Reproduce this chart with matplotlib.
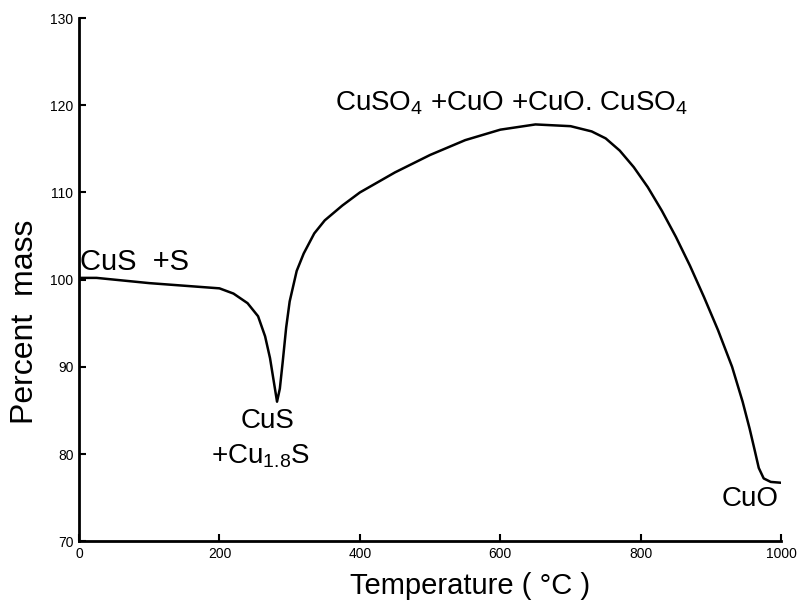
import numpy as np
import matplotlib
matplotlib.use('Agg')
import matplotlib.pyplot as plt

plt.rcParams['font.family'] = ['Liberation Sans', 'DejaVu Sans']
plt.rcParams['mathtext.fontset'] = 'custom'
plt.rcParams['mathtext.rm'] = 'Liberation Sans'
plt.rcParams['mathtext.it'] = 'Liberation Sans'

# thermogravimetric curve of CuS in air
temperature = [0, 25, 50, 100, 150, 200, 220, 240, 255, 265, 272, 278, 282,
               286, 290, 295, 300, 310, 320, 335, 350, 375, 400, 450, 500,
               550, 600, 650, 700, 730, 750, 770, 790, 810, 830, 850, 870,
               890, 910, 930, 945, 955, 962, 968, 975, 985, 1000]
mass = [100.2, 100.2, 100.0, 99.6, 99.3, 99.0, 98.4, 97.3, 95.8, 93.5, 91.0,
        88.0, 86.0, 87.5, 90.5, 94.5, 97.5, 101.0, 103.0, 105.3, 106.8,
        108.5, 110.0, 112.3, 114.3, 116.0, 117.2, 117.8, 117.6, 117.0, 116.2,
        114.8, 112.9, 110.6, 107.9, 104.9, 101.6, 98.0, 94.2, 90.0, 86.0,
        82.9, 80.5, 78.4, 77.2, 76.8, 76.7]

xticks = [0, 200, 400, 600, 800, 1000]
yticks = [70, 80, 90, 100, 110, 120, 130]

fig = plt.figure(figsize=(7.98, 6.02), dpi=100)
ax = fig.add_axes([0.099, 0.101, 0.880, 0.869])

ax.plot(temperature, mass, color='black', lw=1.8)

ax.set_xlim(0, 1000)
ax.set_ylim(70, 130)
ax.set_xticks(xticks)
ax.set_yticks(yticks)
ax.tick_params(direction='in', length=5, width=1.5, labelsize=10, pad=4)
ax.spines['top'].set_visible(False)
ax.spines['right'].set_visible(False)
ax.spines['left'].set_linewidth(2)
ax.spines['bottom'].set_linewidth(2)

ax.set_ylabel('Percent  mass', fontsize=23)
ax.set_xlabel('Temperature ( °C )', fontsize=21)
ax.yaxis.set_label_coords(-0.056, 0.42)
ax.xaxis.set_label_coords(0.557, -0.058)

# phase labels
ax.text(2, 102.0, 'CuS  +S', fontsize=21, ha='left', va='center')
ax.text(365, 120.2, r'CuSO$_4$ +CuO +CuO. CuSO$_4$', fontsize=20,
        ha='left', va='center')
ax.text(268, 83.8, 'CuS', fontsize=20, ha='center', va='center')
ax.text(258, 79.7, r'+Cu$_{1.8}$S', fontsize=20, ha='center', va='center')
ax.text(955, 74.8, 'CuO', fontsize=20, ha='center', va='center')

fig.savefig('out.png', dpi=100)
